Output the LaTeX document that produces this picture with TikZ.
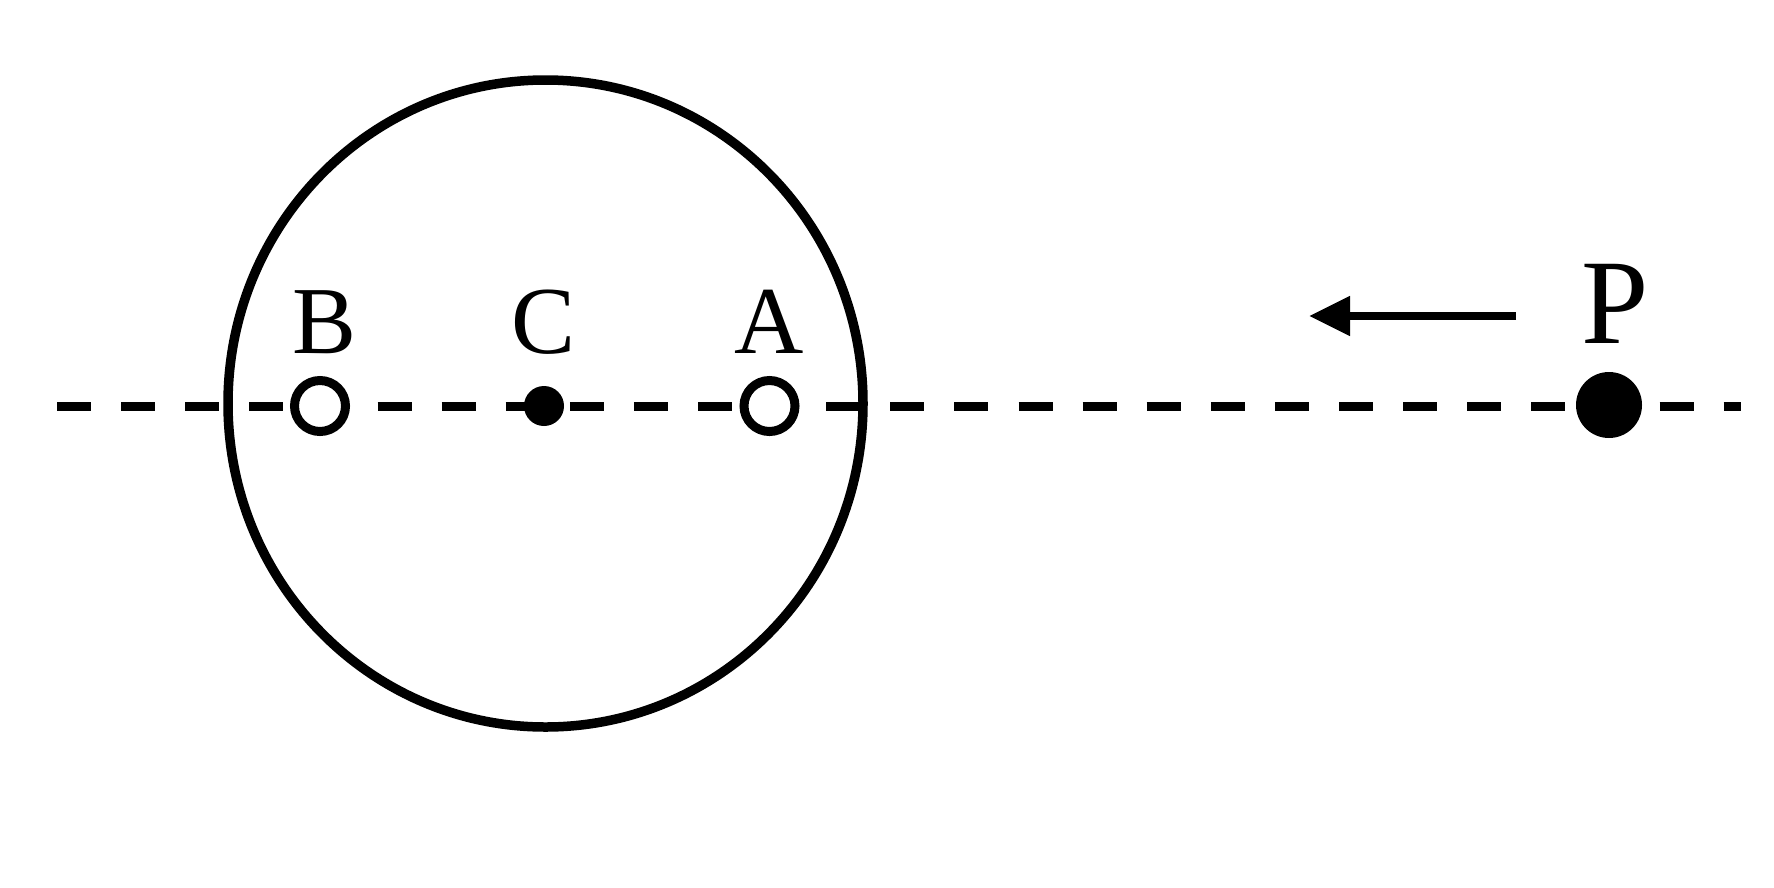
\documentclass[tikz,border=0pt]{standalone}
\usepackage{fontspec}
\setmainfont{Liberation Serif}
\usetikzlibrary{positioning, arrows.meta, shapes.geometric}

\begin{document}
\begin{tikzpicture}
			[x=1pt, y=-1pt,
			hollow/.style={circle, draw, fill=white, line width=9pt, minimum size=51pt, inner sep=0pt},
			filled/.style={circle, fill=black, inner sep=0pt},
			lbl/.style={inner sep=0pt, anchor=base, font=\fontsize{96}{100}\selectfont}]
		\useasboundingbox[fill=white] (0,0) rectangle (1774,887);
		% sphere and axis %
		\node[ellipse, draw, line width=9.5pt, minimum width=635pt, minimum height=647pt, inner sep=0pt] (sphere) at (545.5,403.5) {};
		\coordinate (axl) at (57,406);
		\coordinate (axr) at (1741,406);
		\draw[line width=9pt, dash pattern=on 34pt off 30.1pt] (axl) -- (axr);

		% points %
		\node[hollow] (b) at (320,406) {};
		\node[filled, minimum size=40pt] (c) at (544,406) {};
		\node[hollow] (a) at (769.5,406) {};
		\node[filled, minimum size=66pt] (p) at (1609,405) {};

		% labels %
		\node[lbl] (lb) at (325,353) {B};
		\node[lbl] (lc) at (544,353) {C};
		\node[lbl] (la) at (769,353) {A};
		\node[lbl, font=\fontsize{121}{125}\selectfont] (lp) at (1615,343) {P};

		% motion %
		\coordinate (tail) at (1516,316);
		\coordinate (tip) at (1309,316);
		\draw[-{Triangle[length=41pt, width=38pt]}, line width=8pt] (tail) -- (tip);
		\end{tikzpicture}
\end{document}
